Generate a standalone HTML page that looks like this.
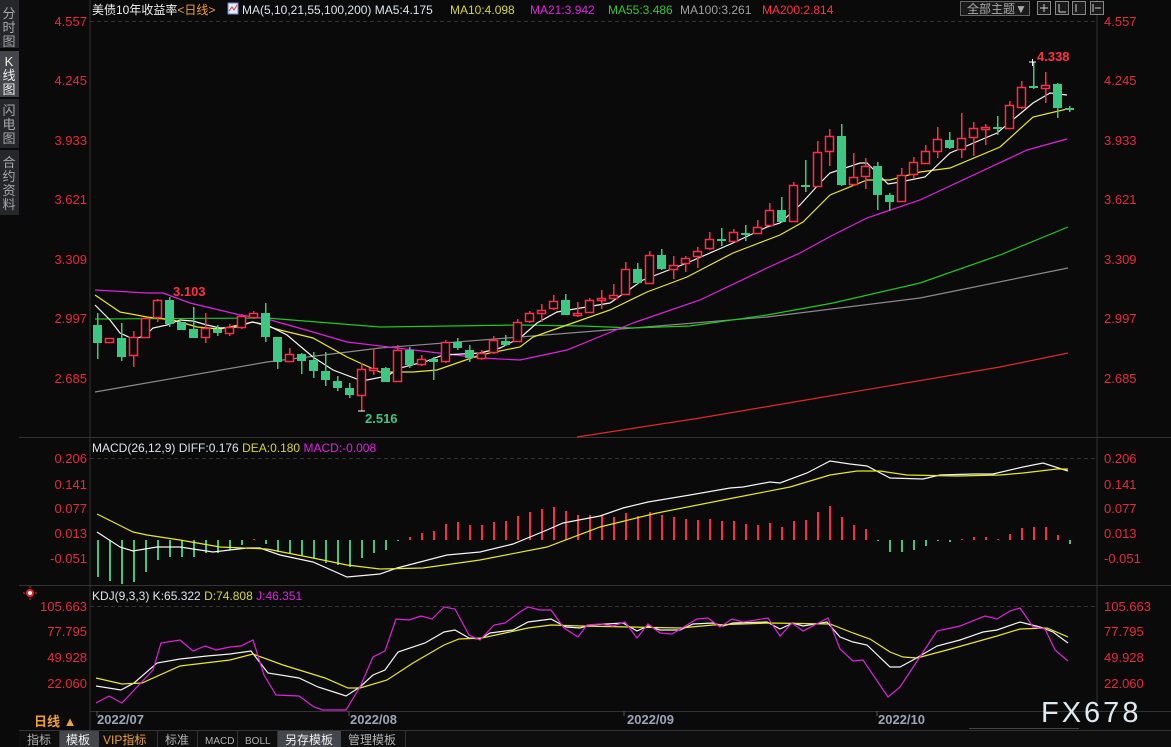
<!DOCTYPE html>
<html><head><meta charset="utf-8"><style>
html,body{margin:0;padding:0;background:#0a0a0a;width:1171px;height:747px;overflow:hidden}
svg{display:block}
text{font-family:"Liberation Sans","Noto Sans CJK SC",sans-serif}
</style></head><body>
<svg id="s" width="1171" height="747" viewBox="0 0 1171 747" xmlns="http://www.w3.org/2000/svg">
<rect width="1171" height="747" fill="#0a0a0a"/>
<rect x="0" y="0" width="19" height="48" fill="#26272b"/>
<rect x="0" y="51" width="19" height="46" fill="#44464c"/>
<rect x="0" y="99" width="19" height="49" fill="#26272b"/>
<rect x="0" y="150" width="19" height="65" fill="#26272b"/>
<g fill="#a8a8a8" font-size="13" text-anchor="middle">
<text x="9" y="18">分</text><text x="9" y="32">时</text><text x="9" y="46">图</text>
<text x="9" y="66" fill="#eee">K</text><text x="9" y="80" fill="#eee">线</text><text x="9" y="94" fill="#eee">图</text>
<text x="9" y="115">闪</text><text x="9" y="129">电</text><text x="9" y="143">图</text>
<text x="9" y="167">合</text><text x="9" y="181">约</text><text x="9" y="195">资</text><text x="9" y="209">料</text>
</g>
<g shape-rendering="crispEdges">
<line x1="90" y1="0" x2="90" y2="731" stroke="#333"/>
<line x1="1097" y1="0" x2="1097" y2="711" stroke="#333"/>
<line x1="19" y1="437.5" x2="1171" y2="437.5" stroke="#333"/>
<line x1="19" y1="585.5" x2="1171" y2="585.5" stroke="#333"/>
<line x1="90" y1="711.5" x2="1171" y2="711.5" stroke="#333"/>
<line x1="19" y1="730.5" x2="1171" y2="730.5" stroke="#333"/>
<g stroke="#333" stroke-dasharray="4,3"><line x1="90" y1="21.5" x2="1097" y2="21.5"/><line x1="90" y1="458.5" x2="1097" y2="458.5"/><line x1="90" y1="606.5" x2="1097" y2="606.5"/></g>
</g>
<g fill="#e8283c" font-size="13">
<g text-anchor="end">
<text x="87" y="26">4.557</text><text x="87" y="85">4.245</text><text x="87" y="145">3.933</text><text x="87" y="204">3.621</text><text x="87" y="264">3.309</text><text x="87" y="323">2.997</text><text x="87" y="383">2.685</text>
<text x="87" y="463">0.206</text><text x="87" y="489">0.141</text><text x="87" y="513">0.077</text><text x="87" y="538">0.013</text><text x="87" y="563">-0.051</text>
<text x="87" y="611">105.663</text><text x="87" y="636">77.795</text><text x="87" y="662">49.928</text><text x="87" y="688">22.060</text>
</g>
<text x="1104" y="26">4.557</text><text x="1104" y="85">4.245</text><text x="1104" y="145">3.933</text><text x="1104" y="204">3.621</text><text x="1104" y="264">3.309</text><text x="1104" y="323">2.997</text><text x="1104" y="383">2.685</text>
<text x="1104" y="463">0.206</text><text x="1104" y="489">0.141</text><text x="1104" y="513">0.077</text><text x="1104" y="538">0.013</text><text x="1104" y="563">-0.051</text>
<text x="1104" y="611">105.663</text><text x="1104" y="636">77.795</text><text x="1104" y="662">49.928</text><text x="1104" y="688">22.060</text>
</g>
<g font-size="12">
<text x="92" y="14" fill="#f0f0f0">美债10年收益率<tspan fill="#f0a030">&lt;日线&gt;</tspan></text>
<rect x="228" y="3" width="10" height="11" fill="#ddeeff" stroke="#6688cc"/>
<polyline points="229,11 232,7 234,10 237,5" stroke="#e33" fill="none"/>
<text x="242" y="14" fill="#dde4ee">MA(5,10,21,55,100,200)  MA5:4.175</text>
<text x="450" y="14" fill="#d8d820">MA10:4.098</text>
<text x="530" y="14" fill="#e020e0">MA21:3.942</text>
<text x="608" y="14" fill="#30c830">MA55:3.486</text>
<text x="680" y="14" fill="#a0a0a0">MA100:3.261</text>
<text x="762" y="14" fill="#ff3040">MA200:2.814</text>
<text x="92" y="452" fill="#dde4ee">MACD(26,12,9) DIFF:0.176  <tspan fill="#d8d820">DEA:0.180</tspan>  <tspan fill="#e020e0">MACD:-0.008</tspan></text>
<text x="92" y="600" fill="#dde4ee">KDJ(9,3,3) K:65.322  <tspan fill="#d8d820">D:74.808</tspan>  <tspan fill="#e020e0">J:46.351</tspan></text>
</g>
<circle cx="30" cy="593" r="3" fill="#fff" stroke="#e22" stroke-width="2"/>
<g stroke="#e22" stroke-width="1"><line x1="30" y1="586" x2="30" y2="588"/><line x1="30" y1="598" x2="30" y2="600"/><line x1="23" y1="593" x2="25" y2="593"/><line x1="35" y1="593" x2="37" y2="593"/></g>
<rect x="960.5" y="1.5" width="69" height="14" fill="#1a1a1a" stroke="#666"/>
<text x="967" y="13" font-size="12" fill="#aaa">全部主题▼</text>
<g stroke="#888" fill="#1a1a1a"><rect x="1037.5" y="1.5" width="13" height="13"/><rect x="1055.5" y="1.5" width="13" height="13"/><rect x="1072.5" y="1.5" width="13" height="13"/><rect x="1090.5" y="1.5" width="13" height="13"/></g>
<g stroke="#ccc"><line x1="1044" y1="4" x2="1044" y2="12"/><line x1="1040" y1="8" x2="1048" y2="8"/><line x1="1059" y1="4" x2="1059" y2="12"/><line x1="1059" y1="12" x2="1066" y2="12"/><line x1="1076" y1="4" x2="1076" y2="12"/><line x1="1093" y1="4" x2="1093" y2="12"/><line x1="1095" y1="8" x2="1101" y2="8"/></g>
<g id="plot"></g>
<text x="173" y="296" font-size="13" font-weight="bold" fill="#ff3040">3.103</text>
<text x="365" y="423" font-size="13" font-weight="bold" fill="#3cc882">2.516</text>
<text x="1037" y="61" font-size="13" font-weight="bold" fill="#ff3040">4.338</text>
<g font-size="13" font-weight="bold" fill="#9aa6b8">
<text x="97" y="724">2022/07</text><text x="350" y="724">2022/08</text><text x="627" y="724">2022/09</text><text x="878" y="724">2022/10</text>
</g>
<g stroke="#555"><line x1="97" y1="711" x2="97" y2="716"/><line x1="349" y1="711" x2="349" y2="716"/><line x1="624" y1="711" x2="624" y2="716"/><line x1="877" y1="711" x2="877" y2="716"/></g>
<text x="34" y="726" font-size="13" font-weight="bold" fill="#f0a030">日线 ▲</text>
<text x="1041" y="722" font-size="29" fill="#e0e8f0" letter-spacing="3">FX678</text>
<line x1="969" y1="728.5" x2="1079" y2="728.5" stroke="#444"/>
<rect x="19" y="731" width="1152" height="16" fill="#0e0e0e"/>
<rect x="60" y="731" width="39" height="16" fill="#44464c"/>
<rect x="278" y="731" width="63" height="16" fill="#44464c"/>
<g stroke="#333"><line x1="59.5" y1="731" x2="59.5" y2="747"/><line x1="157.5" y1="731" x2="157.5" y2="747"/><line x1="197.5" y1="731" x2="197.5" y2="747"/><line x1="237.5" y1="731" x2="237.5" y2="747"/><line x1="277.5" y1="731" x2="277.5" y2="747"/><line x1="405.5" y1="731" x2="405.5" y2="747"/></g>
<g font-size="12" fill="#b0b0b0">
<text x="27" y="744">指标</text><text x="66" y="744" fill="#f0f0f0">模板</text><text x="103" y="744" fill="#f0a030">VIP指标</text><text x="165" y="744">标准</text>
<text x="205" y="744" font-size="10">MACD</text><text x="245" y="744" font-size="10">BOLL</text><text x="285" y="744" fill="#f0f0f0">另存模板</text><text x="348" y="744">管理模板</text>
</g>
</svg>
<script>
var C=[[325,343,313,359,'g'],[338,342,338,342,'r'],[338,357,323,361,'g'],[337,355,331,367,'r'],[318,337,318,337,'r'],[300,317,299,322,'r'],[300,324,297,327,'g'],[322,330,322,330,'g'],[329,338,307,338,'g'],[328,337,313,343,'r'],[329,333,325,336,'g'],[327,333,324,336,'r'],[316,327,314,329,'r'],[313,317,311,319,'r'],[313,337,303,342,'g'],[337,362,337,369,'g'],[354,361,348,361,'r'],[354,361,353,374,'g'],[360,371,352,378,'g'],[371,380,352,386,'g'],[381,388,376,391,'g'],[388,395,383,398,'g'],[369,395,363,411,'r'],[368,370,348,375,'r'],[368,382,367,382,'g'],[350,381,345,381,'r'],[350,365,347,368,'g'],[359,364,355,366,'r'],[359,362,357,380,'g'],[342,361,340,363,'r'],[342,348,338,350,'g'],[350,358,345,362,'g'],[353,358,350,360,'r'],[340,352,336,354,'r'],[341,345,335,346,'g'],[322,341,319,342,'r'],[313,321,311,323,'r'],[310,313,304,322,'r'],[301,308,295,310,'r'],[300,315,294,315,'g'],[313,314,302,317,'r'],[300,312,298,313,'r'],[298,299,290,309,'r'],[295,298,284,299,'r'],[269,294,262,295,'r'],[269,283,263,284,'g'],[255,283,251,284,'r'],[255,269,249,270,'g'],[265,269,256,279,'r'],[258,263,256,272,'r'],[251,256,247,268,'r'],[239,248,232,250,'r'],[239,240,228,246,'g'],[232,241,229,242,'r'],[233,234,225,241,'g'],[227,233,220,234,'r'],[210,225,203,226,'r'],[210,222,197,223,'g'],[185,221,182,222,'r'],[185,186,160,192,'g'],[152,186,141,187,'r'],[136,151,129,166,'r'],[136,185,124,186,'g'],[177,184,153,186,'r'],[166,176,158,189,'r'],[166,195,162,210,'g'],[195,202,193,211,'g'],[175,201,168,202,'r'],[162,174,157,179,'r'],[151,163,145,164,'r'],[139,151,127,158,'r'],[140,148,132,149,'g'],[138,149,113,158,'r'],[128,137,122,156,'r'],[127,128,124,145,'r'],[127,129,116,135,'g'],[105,128,101,129,'r'],[87,107,81,109,'r'],[86,88,62,89,'g'],[85,88,72,103,'r'],[84,108,83,118,'g'],[108,110,106,112,'g']];
var M=[577,581,584,582,572,560,557,557,557,553,553,550,545,539,544,552,553,556,558,563,565,567,558,553,550,541,537,533,531,524,522,525,525,522,521,516,512,509,507,511,515,515,515,517,513,516,512,515,517,519,520,519,521,521,524,525,523,527,521,520,512,506,517,525,529,541,552,552,550,546,540,542,539,537,537,539,534,528,527,527,535,544];
var R='#ff2c47',G='#3cc882',h='';
function L(p,c){h+='<polyline points="'+p+'" fill="none" stroke="'+c+'" stroke-width="1.2"/>';}
L('95,392 267,362 380,348 520,337 633,328 767,317 920,298 1068,268','#8a8a8a');
L('95,319 267,318 380,327 520,325 583,326 633,328 690,326 767,315 833,303 920,283 1000,255 1068,227','#20c820');
L('577,437 700,418 800,401 900,384 1000,367 1068,353','#e02828');
L('95,290 147,293 163,293 190,303 240,315 267,319 313,332 347,342 397,348 447,354 480,358 520,360 567,350 633,323 700,300 767,268 800,253 833,235 867,218 920,200 1027,150 1067,139','#e020e0');
L('95,295 120,312 147,317 173,320 197,327 220,329 253,322 280,330 313,338 347,357 380,372 413,372 437,370 480,355 520,347 533,337 567,325 610,310 647,292 687,277 733,253 780,235 803,222 830,195 867,180 890,180 920,172 950,168 1000,147 1033,117 1067,109','#e8e820');
L('95,305 110,320 120,333 133,339 145,336 153,328 167,325 180,320 193,321 207,325 220,328 237,327 252,322 267,325 287,335 313,357 333,370 357,379 367,380 387,376 400,368 427,361 443,355 480,353 500,348 520,338 537,323 557,312 610,303 643,280 687,263 733,243 767,227 780,223 800,205 820,183 830,173 860,163 867,163 888,184 900,182 925,177 950,153 997,133 1033,103 1050,93 1067,95','#f4f4f4');
for(var i=0;i<C.length;i++){var c=C[i],x=97+12*i,col=c[4]=='r'?R:G;
h+='<rect x="'+x+'" y="'+c[2]+'" width="1.5" height="'+(c[3]-c[2])+'" fill="'+col+'"/>';
var hh=Math.max(c[1]-c[0],2);
if(c[4]=='r')h+='<rect x="'+(x-3.5)+'" y="'+(c[0]+.5)+'" width="8" height="'+hh+'" fill="#0a0a0a" stroke="'+R+'" stroke-width="1.5"/>';
else h+='<rect x="'+(x-4)+'" y="'+c[0]+'" width="9" height="'+hh+'" fill="'+G+'"/>';}
h+='<line x1="1029" y1="62" x2="1036" y2="62" stroke="#fff"/><line x1="1032.5" y1="59" x2="1032.5" y2="66" stroke="#fff"/>';
h+='<line x1="358" y1="411" x2="365" y2="411" stroke="#fff"/>';
for(var i=0;i<M.length;i++){var x=97+12*i,y=M[i],t=Math.min(540,y),hh=Math.max(Math.abs(y-540),1);h+='<rect x="'+x+'" y="'+t+'" width="2" height="'+hh+'" fill="'+(y>=540?G:R)+'"/>';}
L('97,532 120,547 133,551 157,547 180,547 213,552 247,548 260,548 280,555 313,562 347,577 380,574 397,568 447,555 480,552 513,544 547,530 563,523 600,516 623,508 648,502 690,495 730,488 743,487 770,482 780,483 807,473 830,461 850,464 867,466 890,478 923,479 940,475 973,474 993,474 1023,467 1043,463 1068,471','#f4f4f4');
L('97,514 133,532 147,535 180,540 220,547 267,549 313,558 347,565 380,569 423,568 480,560 547,547 600,527 657,513 723,500 790,487 830,475 857,471 880,471 907,475 957,476 1000,475 1023,473 1057,469 1068,469','#e8e820');
L('96,686 121,690 134,683 157,663 180,659 207,656 230,654 251,651 268,673 299,678 318,687 337,693 346,696 360,687 373,675 385,670 398,652 425,643 444,632 455,630 469,638 480,639 490,633 513,630 528,622 551,619 566,627 580,628 590,625 623,623 637,631 648,626 660,630 680,630 693,624 713,623 723,626 733,623 767,622 780,629 793,623 803,626 827,622 840,637 853,642 867,645 890,667 900,667 913,660 937,646 960,640 983,632 997,630 1020,622 1040,627 1053,632 1068,643','#f4f4f4');
L('96,678 122,684 142,683 180,666 230,660 253,654 283,665 325,678 348,688 360,688 387,680 413,663 444,645 459,639 482,638 505,633 528,628 551,625 580,626 630,627 680,628 713,625 770,623 830,624 853,633 870,639 890,652 903,657 917,658 947,650 997,636 1020,629 1047,628 1068,637','#e8e820');
L('96,703 109,696 122,703 153,670 161,643 180,640 193,651 205,646 216,650 230,647 241,646 253,640 264,675 276,695 299,696 314,707 323,710 346,710 360,687 373,657 385,651 396,619 409,620 421,616 432,619 444,607 455,609 469,635 480,640 494,625 505,623 520,612 528,607 540,610 551,610 564,628 578,637 587,625 600,624 613,626 625,622 637,638 648,624 660,633 672,634 697,619 708,618 720,627 732,619 743,622 768,618 780,636 792,623 803,631 828,618 840,649 853,661 863,660 888,697 900,687 937,631 960,626 985,616 997,619 1010,611 1020,608 1033,627 1045,629 1055,650 1068,661','#e020e0');
document.getElementById('plot').innerHTML=h;
</script>
</body></html>
